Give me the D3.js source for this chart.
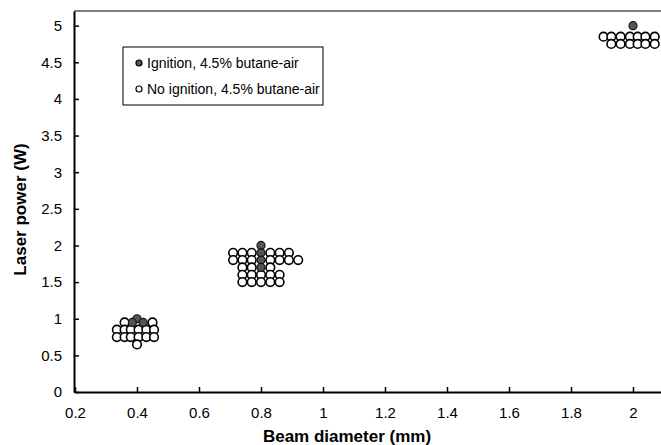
<!DOCTYPE html>
<html><head><meta charset="utf-8">
<script src="https://cdn.jsdelivr.net/npm/d3@7"></script>
<style>body{margin:0;background:#fff}svg{display:block}text{font-family:"Liberation Sans",Arial,sans-serif}</style>
</head><body>
<svg id="c" width="661" height="445"></svg>
<script>
// Data (beam diameter mm, laser power W)
const ignitionX = [0.40, 0.385, 0.42, 0.80, 0.80, 0.80, 0.80, 2.00];
const ignitionY = [1.00, 0.95, 0.95, 2.00, 1.90, 1.80, 1.70, 5.00];
const noIgnX = [
  0.36, 0.45,
  0.335, 0.36, 0.38, 0.405, 0.43, 0.455,
  0.335, 0.36, 0.38, 0.405, 0.43, 0.455,
  0.40,
  0.71, 0.74, 0.77, 0.83, 0.86, 0.89,
  0.71, 0.74, 0.77, 0.83, 0.86, 0.89, 0.92,
  0.74, 0.77, 0.83,
  0.74, 0.77, 0.80, 0.83, 0.86,
  0.74, 0.77, 0.80, 0.83, 0.86,
  1.905, 1.93, 1.96, 1.99, 2.015, 2.04, 2.07,
  1.93, 1.96, 1.99, 2.015, 2.04, 2.07
];
const noIgnY = [
  0.95, 0.95,
  0.85, 0.85, 0.85, 0.85, 0.85, 0.85,
  0.75, 0.75, 0.75, 0.75, 0.75, 0.75,
  0.65,
  1.9, 1.9, 1.9, 1.9, 1.9, 1.9,
  1.8, 1.8, 1.8, 1.8, 1.8, 1.8, 1.8,
  1.7, 1.7, 1.7,
  1.6, 1.6, 1.6, 1.6, 1.6,
  1.5, 1.5, 1.5, 1.5, 1.5,
  4.85, 4.85, 4.85, 4.85, 4.85, 4.85, 4.85,
  4.75, 4.75, 4.75, 4.75, 4.75, 4.75
];
const xTicks = [0.2, 0.4, 0.6, 0.8, 1, 1.2, 1.4, 1.6, 1.8, 2];
const yTicks = [0, 0.5, 1, 1.5, 2, 2.5, 3, 3.5, 4, 4.5, 5];
const legendLabels = ["Ignition, 4.5% butane-air", "No ignition, 4.5% butane-air"];
const xTitle = "Beam diameter (mm)";
const yTitle = "Laser power (W)";

const svg = d3.select("#c");
const x = d3.scaleLinear().domain([0.2, 2.2]).range([75, 695]);
const y = d3.scaleLinear().domain([0, 5.2]).range([392, 11]);

// frame (top line)
svg.append("line").attr("x1", 74).attr("x2", 661).attr("y1", y(5.2)).attr("y2", y(5.2))
  .attr("stroke", "#000").attr("stroke-width", 1);

const xAxis = svg.append("g").attr("transform", `translate(0,${y(0)})`)
  .call(d3.axisBottom(x).tickValues(xTicks).tickFormat(d3.format("")).tickSizeInner(-5).tickSizeOuter(0).tickPadding(15));
const yAxis = svg.append("g").attr("transform", `translate(${x(0.2) - 1},0)`)
  .call(d3.axisLeft(y).tickValues(yTicks).tickFormat(d3.format("")).tickSizeInner(-5).tickSizeOuter(0).tickPadding(12));
[xAxis, yAxis].forEach(g => {
  g.select(".domain").attr("stroke", "#000").attr("stroke-width", 2);
  g.selectAll(".tick line").attr("stroke", "#000").attr("stroke-width", 1.5);
  g.selectAll("text").attr("font-size", 15).attr("fill", "#000");
});

svg.append("text").attr("x", 347).attr("y", 442).attr("text-anchor", "middle")
  .attr("font-size", 17).attr("font-weight", "bold").text(xTitle);
svg.append("text").attr("transform", `translate(26,${(y(0) + y(5.2)) / 2 + 8}) rotate(-90)`)
  .attr("text-anchor", "middle").attr("font-size", 17).attr("font-weight", "bold").text(yTitle);

// points
const plot = svg.append("g");
plot.selectAll("circle.open").data(noIgnX.map((d, i) => [d, noIgnY[i]])).join("circle")
  .attr("class", "open").attr("cx", d => x(d[0])).attr("cy", d => y(d[1])).attr("r", 4.3)
  .attr("fill", "#fff").attr("stroke", "#000").attr("stroke-width", 1.6);
plot.selectAll("circle.ign").data(ignitionX.map((d, i) => [d, ignitionY[i]])).join("circle")
  .attr("class", "ign").attr("cx", d => x(d[0])).attr("cy", d => y(d[1])).attr("r", 4)
  .attr("fill", "#555").attr("stroke", "#111").attr("stroke-width", 1.2);

// legend
const lg = svg.append("g");
lg.append("rect").attr("x", 123).attr("y", 47).attr("width", 200).attr("height", 58)
  .attr("fill", "#fff").attr("stroke", "#000").attr("stroke-width", 1);
legendLabels.forEach((t, i) => {
  const cy = 63 + i * 26;
  lg.append("circle").attr("cx", 139).attr("cy", cy).attr("r", 3)
    .attr("fill", i === 0 ? "#555" : "#fff").attr("stroke", "#000").attr("stroke-width", 1.2);
  lg.append("text").attr("x", 147).attr("y", cy + 5).attr("font-size", 14).text(t);
});
</script>
</body></html>
